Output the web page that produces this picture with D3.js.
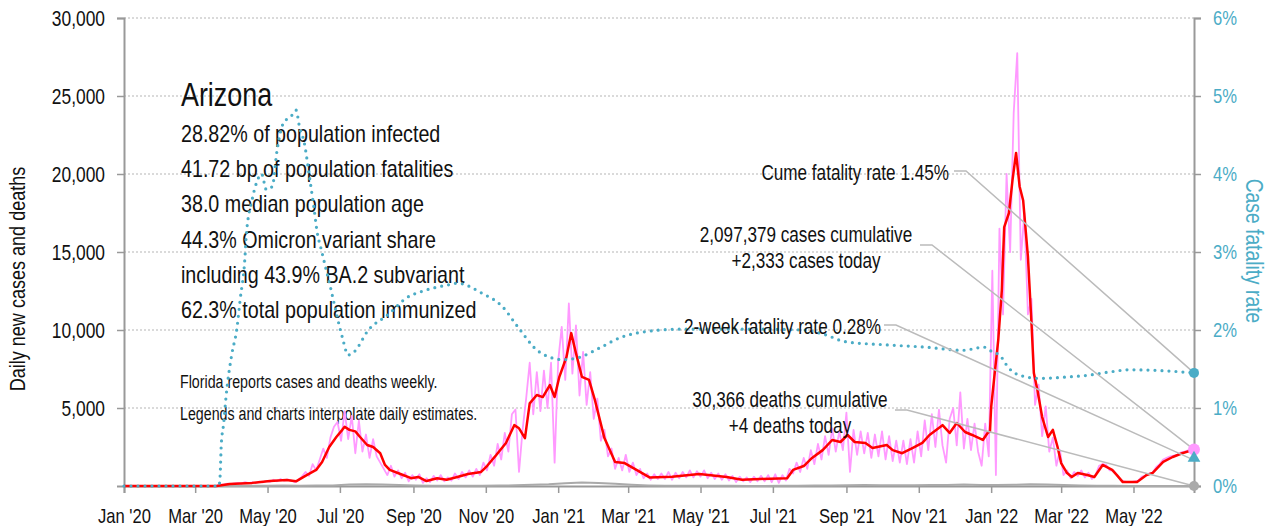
<!DOCTYPE html>
<html>
<head>
<meta charset="utf-8">
<script src="https://cdn.jsdelivr.net/npm/d3@7"></script>
<style>
  body { margin: 0; background: #fff; }
  svg { display: block; font-family: "Liberation Sans", Arial, sans-serif; }
</style>
</head>
<body>
<svg id="chart" width="1272" height="526"></svg>
<script>
// 7-day average of new cases (date, cases)
const avgCases = [
  ["2020-01-01",0],["2020-03-19",0],["2020-03-30",130],["2020-04-18",200],["2020-05-03",320],
  ["2020-05-17",380],["2020-05-25",300],["2020-06-03",700],["2020-06-11",1030],["2020-06-16",1540],
  ["2020-06-22",2500],["2020-06-28",3140],["2020-07-03",3600],["2020-07-05",3800],["2020-07-09",3600],
  ["2020-07-14",3500],["2020-07-18",3140],["2020-07-24",2630],["2020-07-29",2500],["2020-08-04",2100],
  ["2020-08-08",1350],["2020-08-12",1030],["2020-08-21",770],["2020-08-30",500],["2020-09-05",580],
  ["2020-09-12",320],["2020-09-21",500],["2020-09-29",400],["2020-10-08",580],["2020-10-17",770],
  ["2020-10-28",900],["2020-11-02",1280],["2020-11-10",2000],["2020-11-18",2760],["2020-11-25",3900],
  ["2020-11-29",3700],["2020-12-04",3070],["2020-12-08",5300],["2020-12-14",5830],["2020-12-19",5700],
  ["2020-12-25",6470],["2020-12-29",5700],["2021-01-02",7000],["2021-01-08",8270],["2021-01-12",9800],
  ["2021-01-16",8520],["2021-01-21",7000],["2021-01-27",6800],["2021-02-01",5500],["2021-02-09",3070],
  ["2021-02-18",1540],["2021-02-26",1470],["2021-03-08",1030],["2021-03-19",550],["2021-04-07",600],
  ["2021-04-30",770],["2021-05-23",580],["2021-06-05",400],["2021-06-20",450],["2021-07-13",500],
  ["2021-07-18",1030],["2021-07-27",1280],["2021-08-03",1800],["2021-08-12",2300],["2021-08-20",2950],
  ["2021-08-27",2820],["2021-09-02",3270],["2021-09-08",2820],["2021-09-17",2760],["2021-09-23",2440],
  ["2021-10-05",2630],["2021-10-10",2300],["2021-10-18",2100],["2021-10-27",2440],["2021-11-04",2760],
  ["2021-11-10",3270],["2021-11-21",3900],["2021-11-27",3400],["2021-12-03",4040],["2021-12-10",3460],
  ["2021-12-16",3270],["2021-12-25",2950],["2021-12-29",3400],["2021-12-31",3500],["2022-01-01",5060],
  ["2022-01-04",7240],["2022-01-07",9360],["2022-01-10",12560],["2022-01-12",16600],["2022-01-16",17500],
  ["2022-01-19",19600],["2022-01-22",21350],["2022-01-25",19200],["2022-01-28",18300],["2022-02-01",14700],
  ["2022-02-04",10450],["2022-02-06",7240],["2022-02-09",6150],["2022-02-13",4420],["2022-02-18",3140],
  ["2022-02-22",3600],["2022-02-26",2500],["2022-03-01",1470],["2022-03-06",830],["2022-03-10",580],
  ["2022-03-15",830],["2022-03-23",700],["2022-03-29",580],["2022-04-05",1350],["2022-04-13",1030],
  ["2022-04-17",700],["2022-04-22",250],["2022-05-04",250],["2022-05-12",700],["2022-05-17",830],
  ["2022-05-26",1540],["2022-06-03",1860],["2022-06-11",2100],["2022-06-21",2333]
];

// daily new cases, one reading every 3 days from dailyStart
const dailyStart = "2020-03-19";
const dailyStep = 3;
const dailyCases = [
  20,80,90,150,120,170,200,150,250,180,
  240,190,280,230,330,260,400,300,450,340,
  430,350,240,400,600,900,650,1400,1000,1700,
  2400,1800,3100,3800,4100,2900,4800,3000,4500,2100,
  4200,2200,3300,1800,3000,1900,1500,1100,700,1300,
  600,1000,500,850,300,700,400,750,200,500,
  250,650,350,700,300,550,350,800,450,900,
  550,1000,600,1100,700,1500,1000,2000,1300,2700,
  1700,3400,2200,4600,4900,900,3600,5600,7900,4600,
  7300,4800,7400,5000,7900,1500,8000,10200,6800,11700,
  7200,10300,5800,8600,5200,7300,4300,5600,2900,3600,
  1900,2400,1100,1800,1000,2000,900,1500,700,1100,
  500,800,400,750,450,800,450,900,400,850,
  500,900,550,1000,550,950,600,1000,500,850,
  450,800,400,750,350,650,250,600,300,550,
  250,600,300,650,300,700,250,750,200,700,
  350,1100,800,1500,900,1800,1100,2300,1400,2700,
  1700,3200,2000,3700,2200,3500,2300,4700,900,3600,
  2000,3500,2100,3400,1800,3300,1900,3500,1700,3200,
  1600,2900,1500,2900,1400,3000,1500,3500,1900,4200,
  2300,4600,2500,4900,2600,1500,4300,5000,2600,6000,
  2400,4300,2300,4000,2200,1300,4000,1900,13800,700,
  16500,11000,20000,15000,23900,27750,14500,17500,11000,12000,
  5200,6500,3200,5100,2200,3100,1300,2300,700,1000,
  500,900,650,1000,550,850,450,700,1300,1400,
  1350,1000,1000,700,400,300,250,250,300,350,
  600,650,800,850,1200,1400,1700,1800,1900,1950,
  2000,2150,2200,2280,2330
];

// daily deaths, one reading every 14 days from deathStart
const deathStart = "2020-03-19";
const deathStep = 14;
const dailyDeaths = [
  0,5,15,20,25,20,25,40,90,120,
  90,60,40,20,15,12,15,25,45,80,
  110,170,230,200,140,80,40,20,15,12,
  12,10,8,8,10,15,25,40,55,60,
  50,45,50,60,70,90,70,60,80,110,
  100,60,30,20,10,8,5,5,5
];

// cumulative case fatality rate, percent
const cumeFatality = [
  ["2020-01-01",0],["2020-03-21",0],["2020-03-22",0.12],["2020-03-23",0.53],["2020-03-25",0.8],
  ["2020-03-27",1.14],["2020-04-01",1.7],["2020-04-05",2.0],["2020-04-08",2.4],["2020-04-12",2.94],
  ["2020-04-13",3.2],["2020-04-18",3.67],["2020-04-22",3.9],["2020-04-26",4.0],["2020-04-30",3.8],
  ["2020-05-05",3.84],["2020-05-09",4.3],["2020-05-13",4.6],["2020-05-17",4.7],["2020-05-22",4.76],
  ["2020-05-25",4.82],["2020-05-28",4.6],["2020-06-01",4.4],["2020-06-05",4.0],["2020-06-09",3.58],
  ["2020-06-12",3.24],["2020-06-15",3.05],["2020-06-19",2.8],["2020-06-23",2.55],["2020-06-26",2.35],
  ["2020-07-03",1.91],["2020-07-08",1.68],["2020-07-13",1.72],["2020-07-25",2.0],["2020-08-10",2.19],
  ["2020-08-27",2.42],["2020-09-09",2.5],["2020-10-01",2.58],["2020-10-08",2.6],["2020-10-29",2.47],
  ["2020-11-15",2.3],["2020-11-28",2.04],["2020-12-16",1.72],["2021-01-05",1.62],["2021-01-19",1.65],
  ["2021-02-05",1.77],["2021-02-22",1.9],["2021-03-08",1.96],["2021-04-14",2.01],["2021-06-20",2.01],
  ["2021-07-27",2.0],["2021-08-14",1.94],["2021-08-31",1.85],["2021-10-04",1.81],["2021-11-07",1.78],
  ["2021-12-08",1.74],["2021-12-26",1.78],["2022-01-02",1.72],["2022-01-08",1.68],["2022-01-16",1.51],
  ["2022-01-25",1.42],["2022-02-11",1.38],["2022-03-08",1.40],["2022-03-24",1.42],["2022-04-10",1.46],
  ["2022-04-28",1.49],["2022-05-23",1.48],["2022-06-21",1.45]
];

const leftTicks = [5000, 10000, 15000, 20000, 25000, 30000];
const rightTicks = [0, 1, 2, 3, 4, 5, 6];

const infoLines = [
  "28.82% of population infected",
  "41.72 bp of population fatalities",
  "38.0 median population age",
  "44.3% Omicron variant share",
  "including 43.9% BA.2 subvariant",
  "62.3% total population immunized"
];
const noteLines = [
  "Florida reports cases and deaths weekly.",
  "Legends and charts interpolate daily estimates."
];

// latest values shown by the end markers
const lastDate = "2022-06-21";
const lastCases = 2333;
const lastDeaths = 4;
const cumeRate = 1.45;
const twoWeekRate = 0.28;

const TEAL = "#4bacc6", PINK = "#ff99ff", RED = "#ff0000", GREY = "#aaaaaa", LEAD = "#bbbbbb";
const NARROW = 0.79; // horizontal squeeze to mimic a condensed face

const parse = d3.utcParse("%Y-%m-%d");
const svg = d3.select("#chart");

const x = d3.scaleUtc().domain([parse("2020-01-01"), parse(lastDate)]).range([124, 1194]);
const y = d3.scaleLinear().domain([0, 30000]).range([486, 18]);
const y2 = d3.scaleLinear().domain([0, 6]).range([486, 18]);

// grid
svg.append("g").selectAll("line").data(leftTicks).join("line")
  .attr("x1", x.range()[0]).attr("x2", x.range()[1])
  .attr("y1", d => y(d)).attr("y2", d => y(d))
  .attr("stroke", "#b5b5b5").attr("stroke-width", 1).attr("stroke-dasharray", "2,2");

// axes
const axisColor = "#999";
const gx = svg.append("g").attr("transform", `translate(0,${y(0)})`)
  .call(d3.axisBottom(x)
    .tickValues(d3.utcMonth.every(2).range(parse("2020-01-01"), parse("2022-06-01")))
    .tickFormat(d3.utcFormat("%b '%y"))
    .tickSize(7).tickPadding(15));
const gl = svg.append("g").attr("transform", `translate(${x.range()[0]},0)`)
  .call(d3.axisLeft(y).tickValues(leftTicks).tickFormat(d3.format(",")).tickSize(7).tickPadding(12));
const gr = svg.append("g").attr("transform", `translate(${x.range()[1]},0)`)
  .call(d3.axisRight(y2).tickValues(rightTicks).tickFormat(d => d + "%").tickSize(7).tickPadding(12));

[gx, gl, gr].forEach(g => {
  g.select(".domain").attr("stroke", axisColor).attr("stroke-width", 2);
  g.selectAll(".tick line").attr("stroke", axisColor).attr("stroke-width", 1.5);
  g.selectAll("text").attr("font-family", null).attr("font-size", 21).attr("fill", "#111");
});
gl.selectAll("text").attr("font-size", 22);
gr.selectAll("text").attr("fill", TEAL);

// axis titles
svg.append("text")
  .attr("transform", "translate(25,279) rotate(-90)")
  .attr("text-anchor", "middle").attr("font-size", 22).attr("data-narrow", 0.82).attr("fill", "#111")
  .text("Daily new cases and deaths");
svg.append("text")
  .attr("transform", "translate(1246,251) rotate(90)")
  .attr("text-anchor", "middle").attr("font-size", 23.5).attr("data-narrow", 0.82).attr("fill", TEAL)
  .text("Case fatality rate");

// state info block
svg.append("text").attr("x", 181).attr("y", 106)
  .attr("font-size", 34).attr("fill", "#111").text("Arizona");
svg.append("g").selectAll("text").data(infoLines).join("text")
  .attr("x", 181).attr("y", (d, i) => 142 + i * 35.2)
  .attr("font-size", 24).attr("data-narrow", 0.82).attr("fill", "#111").text(d => d);
svg.append("g").selectAll("text").data(noteLines).join("text")
  .attr("x", 180).attr("y", (d, i) => 388 + i * 31.5)
  .attr("font-size", 18).attr("fill", "#111").text(d => d);

// series
const t0 = parse(dailyStart);
const dailyData = dailyCases.map((v, i) => [d3.utcDay.offset(t0, i * dailyStep), v]);
const d0 = parse(deathStart);
const deathData = [[parse("2020-01-01"), 0]]
  .concat(dailyDeaths.map((v, i) => [d3.utcDay.offset(d0, i * deathStep), v]))
  .concat([[parse(lastDate), lastDeaths]]);
const avgData = avgCases.map(d => [parse(d[0]), d[1]]);
const cfrData = cumeFatality.map(d => [parse(d[0]), d[1]]);

const line = d3.line().x(d => x(d[0])).y(d => y(d[1]));
const line2 = d3.line().x(d => x(d[0])).y(d => y2(d[1]));

svg.append("path").datum(dailyData).attr("d", line)
  .attr("fill", "none").attr("stroke", PINK).attr("stroke-width", 1.8).attr("stroke-linejoin", "round");
svg.append("path").datum(deathData).attr("d", line)
  .attr("fill", "none").attr("stroke", GREY).attr("stroke-width", 2);
svg.append("path").datum(avgData).attr("d", line)
  .attr("fill", "none").attr("stroke", RED).attr("stroke-width", 2.5).attr("stroke-linejoin", "round");
svg.append("path").datum(cfrData).attr("d", line2.curve(d3.curveMonotoneX))
  .attr("fill", "none").attr("stroke", TEAL).attr("stroke-width", 3.2)
  .attr("stroke-linecap", "round").attr("stroke-dasharray", "0,7");

// annotations with leader lines
const xEnd = x(parse(lastDate));
const notes = [
  { lines: ["Cume fatality rate 1.45%"], anchor: "end", tx: 949, ty: 180, lx: 954, ly: 171, target: y2(cumeRate) },
  { lines: ["2,097,379 cases cumulative", "+2,333 cases today"], anchor: "middle", tx: 806, ty: 242, lx: 920, ly: 245, target: y(lastCases) },
  { lines: ["2-week fatality rate 0.28%"], anchor: "end", tx: 881, ty: 334, lx: 884, ly: 325, target: y2(twoWeekRate) - 4 },
  { lines: ["30,366 deaths cumulative", "+4 deaths today"], anchor: "middle", tx: 790, ty: 407, lx: 895, ly: 410, target: y(lastDeaths) }
];
notes.forEach(n => {
  svg.append("polyline")
    .attr("points", [[n.lx, n.ly], [n.lx + 12, n.ly], [xEnd, n.target]].map(p => p.join(",")).join(" "))
    .attr("fill", "none").attr("stroke", LEAD).attr("stroke-width", 1.5);
  svg.append("g").selectAll("text").data(n.lines).join("text")
    .attr("x", n.tx).attr("y", (d, i) => n.ty + i * 26)
    .attr("text-anchor", n.anchor).attr("font-size", 21.7).attr("fill", "#111").text(d => d);
});

// end markers
svg.append("circle").attr("cx", xEnd).attr("cy", y2(cumeRate)).attr("r", 5).attr("fill", TEAL);
svg.append("circle").attr("cx", xEnd).attr("cy", y(lastCases)).attr("r", 6).attr("fill", PINK);
svg.append("path").attr("d", d3.symbol(d3.symbolTriangle).size(70)())
  .attr("transform", `translate(${xEnd},${y2(twoWeekRate) - 6})`).attr("fill", TEAL);
svg.append("circle").attr("cx", xEnd).attr("cy", y(lastDeaths)).attr("r", 5).attr("fill", GREY);

// squeeze every label horizontally, keeping its anchor
svg.selectAll("text").each(function() {
  const k = +(this.getAttribute("data-narrow") || NARROW);
  const w = this.getComputedTextLength();
  this.setAttribute("textLength", (w * k).toFixed(1));
  this.setAttribute("lengthAdjust", "spacingAndGlyphs");
});
</script>
</body>
</html>
